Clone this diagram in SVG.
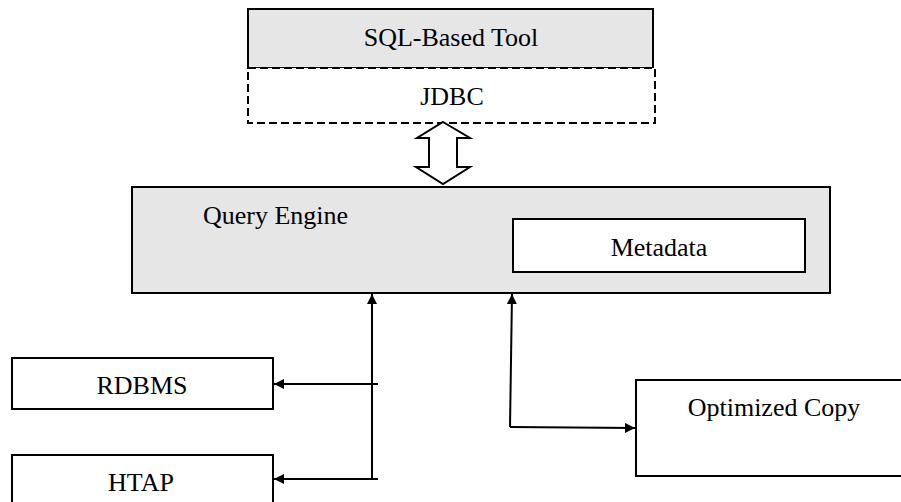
<svg xmlns="http://www.w3.org/2000/svg" width="901" height="502" viewBox="0 0 901 502">
<defs>
<style>
.box{fill:#fff;stroke:#000;stroke-width:2}
.grey{fill:#e6e6e6;stroke:#000;stroke-width:2}
.dash{fill:#fff;stroke:#000;stroke-width:2;stroke-dasharray:8,4}
.t{font-family:"Liberation Serif","Times New Roman",serif;font-size:26px;fill:#000}
.c{stroke:#000;stroke-width:2;fill:none}
</style>
<marker id="ah" viewBox="0 0 10 10" refX="10" refY="5" markerWidth="10" markerHeight="10" markerUnits="userSpaceOnUse" orient="auto">
<path d="M0,0 L10,5 L0,10 z" fill="#000"/>
</marker>
</defs>
<rect width="901" height="502" fill="#fff"/>
<g id="sql-tool">
<rect class="grey" x="248" y="9" width="405" height="59"/>
<text class="t" x="451" y="46" text-anchor="middle">SQL-Based Tool</text>
</g>
<g id="jdbc">
<rect class="dash" x="248" y="68" width="407" height="55"/>
<text class="t" x="452" y="105" text-anchor="middle">JDBC</text>
</g>
<g id="query-engine">
<rect class="grey" x="132" y="187" width="698" height="106"/>
<text class="t" x="203" y="224">Query Engine</text>
</g>
<g id="metadata">
<rect class="box" x="513" y="219" width="292" height="53"/>
<text class="t" x="659" y="256" text-anchor="middle">Metadata</text>
</g>
<g id="rdbms">
<rect class="box" x="12" y="358" width="261" height="51"/>
<text class="t" x="142" y="394" text-anchor="middle">RDBMS</text>
</g>
<g id="htap">
<rect class="box" x="12" y="455" width="261" height="60"/>
<text class="t" x="141" y="491" text-anchor="middle">HTAP</text>
</g>
<g id="optimized-copy">
<rect class="box" x="636" y="380" width="270" height="96"/>
<text class="t" x="774" y="416" text-anchor="middle">Optimized Copy</text>
</g>
<g id="connectors">
<path class="c" fill="#fff" d="M443,122 L470,138 L457,138 L457,167 L470,167 L443,184 L416,167 L429,167 L429,138 L417,138 Z" style="fill:#fff"/>
<line class="c" x1="372" y1="480" x2="372" y2="294" marker-end="url(#ah)"/>
<line class="c" x1="378" y1="384" x2="274" y2="384" marker-end="url(#ah)"/>
<line class="c" x1="378" y1="479" x2="274" y2="479" marker-end="url(#ah)"/>
<line class="c" x1="510" y1="427" x2="512" y2="294" marker-end="url(#ah)"/>
<line class="c" x1="510" y1="427" x2="635" y2="428" marker-end="url(#ah)"/>
</g>
</svg>
